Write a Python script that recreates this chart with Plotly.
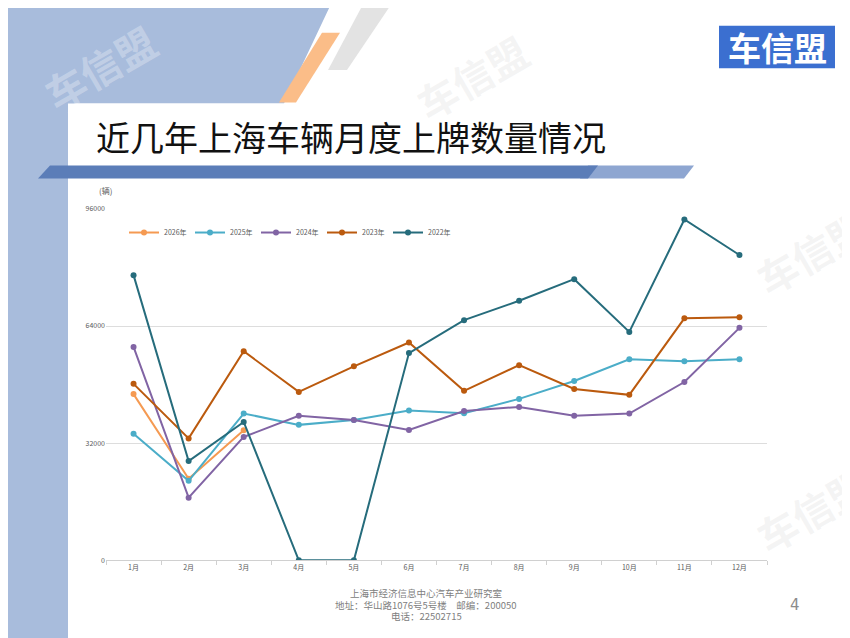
import plotly.graph_objects as go

W, H = 850, 638
OFF = 8  # page body margin of the html page

months = ['1月', '2月', '3月', '4月', '5月', '6月', '7月', '8月', '9月', '10月', '11月', '12月']
y2026 = [45400, 22300, 35500]
y2025 = [34600, 21700, 40100, 37000, 38300, 40900, 40200, 44100, 49000, 54900, 54400, 54900]
y2024 = [58300, 17100, 33700, 39500, 38300, 35600, 40800, 41900, 39500, 40100, 48700, 63500]
y2023 = [48200, 33300, 57100, 46000, 53000, 59500, 46300, 53300, 46800, 45200, 66100, 66400]
y2022 = [77900, 27100, 37800, 0, 0, 56600, 65600, 70900, 76800, 62400, 93100, 83400]
yticks = [0, 32000, 64000, 96000]

series = [
    ('2026年', y2026, '#F59A52'),
    ('2025年', y2025, '#4BADC8'),
    ('2024年', y2024, '#8164A4'),
    ('2023年', y2023, '#BB5A0E'),
    ('2022年', y2022, '#266C7C'),
]

FONT = 'Noto Sans CJK SC'


def fx(x):
    return (x - OFF) / W


def fy(y):
    return 1 - (y - OFF) / H


def poly(pts):
    return 'M ' + ' L '.join(f'{fx(x):.4f},{fy(y):.4f}' for x, y in pts) + ' Z'


fig = go.Figure()

for name, vals, color in series:
    fig.add_trace(go.Scatter(
        x=months[:len(vals)], y=vals, name=name, mode='lines+markers',
        line=dict(color=color, width=2),
        marker=dict(color=color, size=6),
    ))

shapes = [
    # left strip and top blue panel
    dict(type='path', path=poly([(0, 0), (330, 0), (284, 99), (68, 99), (68, 650), (0, 650)]),
         fillcolor='#A8BCDC', line_width=0),
    # white content box with rounded corner
    dict(type='path',
         path=f'M {fx(68)},{fy(650)} L {fx(68)},{fy(108)} Q {fx(68)},{fy(99)} {fx(77)},{fy(99)} '
              f'L {fx(860)},{fy(99)} L {fx(860)},{fy(650)} Z',
         fillcolor='white', line_width=0),
    # grey stripe
    dict(type='path', path=poly([(362, 0), (390, 0), (347, 65), (328, 65)]),
         fillcolor='#E3E3E3', line_width=0),
    # orange stripe
    dict(type='path', path=poly([(322, 27), (340, 27), (296, 98), (279, 98)]),
         fillcolor='#FBBD88', line_width=0),
    # title bar
    dict(type='path', path=poly([(588, 162), (694, 162), (684, 175), (580, 175)]),
         fillcolor='#8EA6D1', line_width=0),
    dict(type='path', path=poly([(50, 162), (598, 162), (588, 175), (38, 175)]),
         fillcolor='#5B7DB8', line_width=0),
    # logo box
    dict(type='rect', x0=fx(719), x1=fx(835), y0=fy(63), y1=fy(20),
         fillcolor='#3B6FD0', line_width=0),
]
for s in shapes:
    s.update(xref='paper', yref='paper', layer='below')

footer = ['上海市经济信息中心汽车产业研究室', '地址：华山路1076号5号楼　邮编：200050', '电话：22502715']

annotations = [
    dict(text='近几年上海车辆月度上牌数量情况', x=fx(94), y=fy(132), xanchor='left', yanchor='middle',
         font=dict(size=34, color='#111111', family=FONT)),
    dict(text='<b>车信盟</b>', x=fx(777), y=fy(42), xanchor='center', yanchor='middle',
         font=dict(size=33, color='white', family=FONT)),
    dict(text='(辆)', x=fx(105), y=fy(187), xanchor='center', yanchor='middle',
         font=dict(size=8, color='#595959', family=FONT)),
    dict(text='4', x=fx(795), y=fy(608), xanchor='center', yanchor='middle',
         font=dict(size=15, color='#8C8C8C', family='DejaVu Sans')),
]
for i, line in enumerate(footer):
    annotations.append(dict(text=line, x=fx(426), y=fy(596 + 12 * i), xanchor='center', yanchor='middle',
                            font=dict(size=9.5, color='#808080', family=FONT)))
# watermarks
for (wx, wy, col) in [(100, 62, 'rgba(255,255,255,0.3)'), (472, 72, 'rgba(200,200,200,0.2)'),
                      (812, 250, 'rgba(200,200,200,0.2)'), (812, 512, 'rgba(200,200,200,0.2)')]:
    annotations.append(dict(text='<b>车信盟</b>', x=fx(wx), y=fy(wy), xanchor='center', yanchor='middle',
                            textangle=-30, font=dict(size=40, color=col, family=FONT)))
for a in annotations:
    a.update(xref='paper', yref='paper', showarrow=False)

fig.update_layout(
    width=W, height=H,
    margin=dict(l=0, r=0, t=0, b=0),
    paper_bgcolor='white', plot_bgcolor='rgba(0,0,0,0)',
    shapes=shapes, annotations=annotations,
    font=dict(family=FONT, color='#595959'),
    legend=dict(orientation='h', x=fx(124), y=fy(230), xanchor='left', yanchor='middle',
                font=dict(size=7, color='#595959', family=FONT),
                bgcolor='rgba(0,0,0,0)', entrywidth=21, itemwidth=30),
    xaxis=dict(domain=[fx(106), fx(767)], range=[-0.5, len(months) - 0.5],
               showgrid=False, showline=True, linecolor='#D0D0D0',
               ticks='outside', ticklen=4, tickcolor='#D0D0D0', tickson='boundaries',
               tickfont=dict(size=7, color='#595959'), fixedrange=True),
    yaxis=dict(domain=[fy(563), fy(206)], range=[0, 96000], tickvals=yticks,
               ticktext=[str(v) for v in yticks],
               showgrid=True, gridcolor='#DDDDDD', zeroline=False,
               tickfont=dict(size=7, color='#595959'), ticks='', fixedrange=True),
)

fig.write_html('out.html')
